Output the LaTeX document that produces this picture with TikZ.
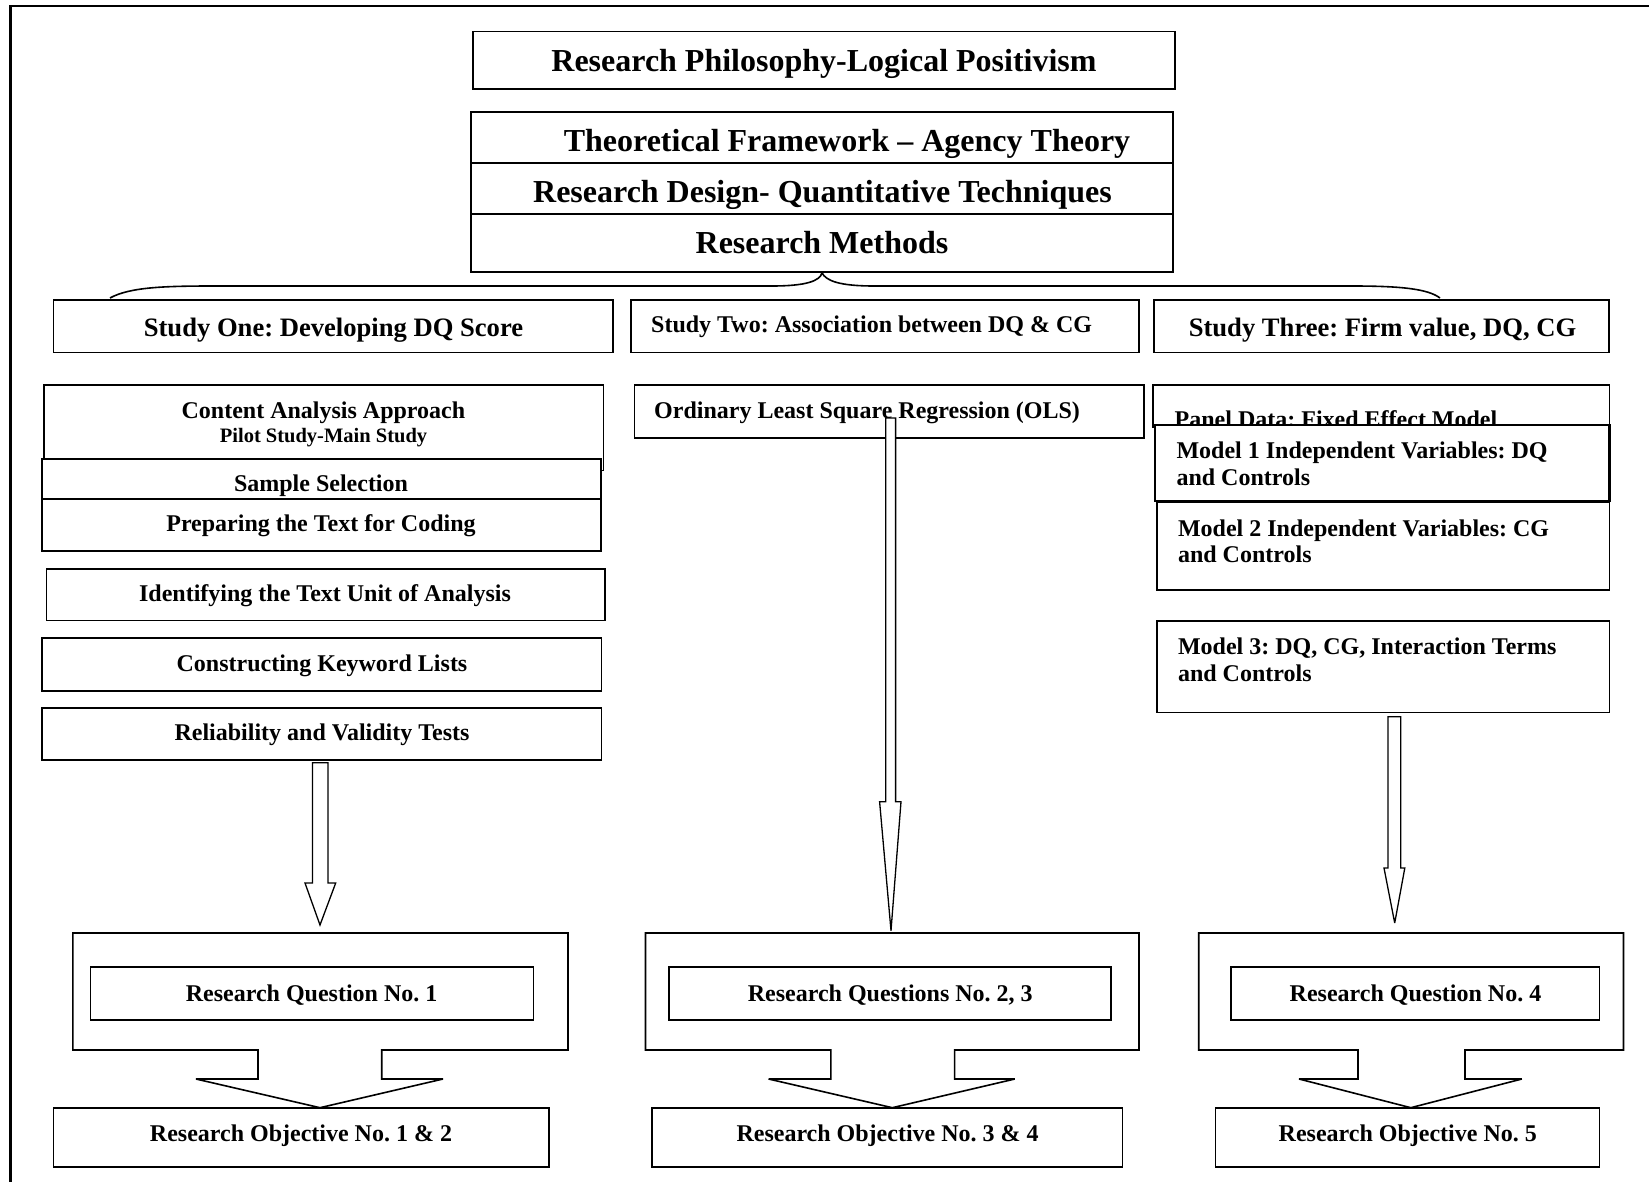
\documentclass[tikz,border=0pt]{standalone}
\usepackage{fontspec}
\setmainfont{Liberation Serif}
\usetikzlibrary{fit}
\frenchspacing
\begin{document}
\begin{tikzpicture}[x=1pt,y=-1pt,
  box/.style={draw, line width=1.6pt, fill=white, inner sep=0pt},
  heavybox/.style={box, line width=2.4pt},
  txt/.style={inner sep=0pt, font=\bfseries\fontsize{24}{28}\selectfont},
  bigtxt/.style={txt, font=\bfseries\fontsize{32}{36}\selectfont},
  midtxt/.style={txt, font=\bfseries\fontsize{26.6}{30}\selectfont},
  smalltxt/.style={txt, font=\bfseries\fontsize{20.5}{24}\selectfont},
  blockarrow/.style={draw, line width=1.3pt, fill=white, line join=miter, miter limit=3},
  callout/.style={draw, line width=1.6pt, fill=white, line join=miter, miter limit=2},
  frameline/.style={line width=2.4pt},
  bracestyle/.style={line width=1.6pt}
]
\useasboundingbox (0,0) rectangle (1649,1182);

% outer frame (top and left edges)
\coordinate (fTR) at (1649,6);
\coordinate (fTL) at (10.5,6);
\coordinate (fBL) at (10.5,1182);
\draw[frameline] (fTR) -- (fTL) -- (fBL);

% ---- top stack ----
\node[box, fit={(473,31.5) (1175,89)}] (phil) {};
\node[bigtxt, anchor=base] (philT) at (824,71.5) {Research Philosophy-Logical Positivism};

\node[box, fit={(471,112) (1173,163)}] (theory) {};
\node[bigtxt, anchor=base] (theoryT) at (847,151.5) {Theoretical Framework -- Agency Theory};
\node[box, fit={(471,163) (1173,214)}] (design) {};
\node[bigtxt, anchor=base] (designT) at (822.5,202.3) {Research Design- Quantitative Techniques};
\node[box, fit={(471,214) (1173,272)}] (methods) {};
\node[bigtxt, anchor=base] (methodsT) at (822,254) {Research Methods};

% brace under the methods box
\coordinate (brL) at (110,298);
\coordinate (brR) at (1440,298);
\draw[bracestyle] (brL) .. controls (130,287) and (165,286) .. (215,286)
  -- (772,286) .. controls (806,286) and (820,281) .. (methods.south)
  .. controls (826,281) and (840,286) .. (874,286)
  -- (1352,286) .. controls (1402,286) and (1428,289) .. (brR);

% ---- study headers ----
\node[box, fit={(53.6,300) (613,352.5)}] (s1) {};
\node[midtxt, anchor=base] (s1T) at (333.5,336) {Study One: Developing DQ Score};
\node[box, fit={(631,300) (1139,352.5)}] (s2) {};
\node[txt, anchor=base west] (s2T) at (651,333) {Study Two: Association between DQ \& CG};
\node[box, fit={(1154,300) (1609,352.5)}] (s3) {};
\node[midtxt, anchor=base] (s3T) at (1382.5,336) {Study Three: Firm value, DQ, CG};

% ---- study one column ----
\node[box, fit={(43.75,385) (603.6,470.5)}] (content) {};
\node[txt, anchor=base] (contentT) at (323.4,418.3) {Content Analysis Approach};
\node[smalltxt, anchor=base] (pilotT) at (323.5,442.7) {Pilot Study-Main Study};
\node[box, fit={(42,459) (601,498.7)}] (sample) {};
\node[txt, anchor=base] (sampleT) at (321,491.7) {Sample Selection};
\node[box, fit={(42,498.7) (601,551)}] (prep) {};
\node[txt, anchor=base] (prepT) at (321,531.7) {Preparing the Text for Coding};
\node[box, fit={(46.3,569) (604.7,620.5)}] (unit) {};
\node[txt, anchor=base] (unitT) at (325,601) {Identifying the Text Unit of Analysis};
\node[box, fit={(42,638) (601.5,691)}] (keys) {};
\node[txt, anchor=base] (keysT) at (322,671) {Constructing Keyword Lists};
\node[box, fit={(42,708) (601.5,760)}] (rel) {};
\node[txt, anchor=base] (relT) at (322,740.7) {Reliability and Validity Tests};

% ---- study two column ----
\node[box, fit={(634.4,385) (1143.7,438)}] (ols) {};
\node[txt, anchor=base west] (olsT) at (654,418) {Ordinary Least Square Regression (OLS)};

% ---- study three column ----
\node[box, fit={(1152.9,385) (1609.6,427)}] (panel) {};
\node[txt, anchor=base west] (panelT) at (1174.5,427.5) {Panel Data: Fixed Effect Model};
\node[heavybox, fit={(1154.8,425) (1609.6,500.7)}] (m1) {};
\node[txt, anchor=base west] (m1a) at (1176.3,458.3) {Model 1 Independent Variables: DQ};
\node[txt, anchor=base west] (m1b) at (1176.3,485) {and Controls};
\node[box, fit={(1156.8,502.3) (1609.6,590)}] (m2) {};
\node[txt, anchor=base west] (m2a) at (1177.8,536.7) {Model 2 Independent Variables: CG};
\node[txt, anchor=base west] (m2b) at (1177.8,562.7) {and Controls};
\node[box, fit={(1156.8,620.7) (1609.6,712.3)}] (m3) {};
\node[txt, anchor=base west] (m3a) at (1177.8,654) {Model 3: DQ, CG, Interaction Terms};
\node[txt, anchor=base west] (m3b) at (1177.8,681) {and Controls};

% ---- block arrows down to the questions ----
\draw[blockarrow] (312.5,762.7) -- (312.5,883) -- (305,883) -- (320,925)
  -- (335.7,883) -- (328,883) -- (328,762.7) -- cycle;
\draw[blockarrow] (885.8,418) -- (885.8,801.7) -- (879.6,801.7) -- (891,930.7)
  -- (901,801.7) -- (895.6,801.7) -- (895.6,418) -- cycle;
\draw[blockarrow] (1388,716.7) -- (1388,868) -- (1384,868) -- (1394.7,923)
  -- (1404.8,868) -- (1400.8,868) -- (1400.8,716.7) -- cycle;

% ---- question callouts ----
\draw[callout] (72.8,933) -- (568,933) -- (568,1050) -- (381.7,1050) -- (381.7,1079)
  -- (443,1079) -- (320,1107.7) -- (196,1079) -- (258,1079) -- (258,1050)
  -- (72.8,1050) -- cycle;
\draw[callout] (645.5,933) -- (1139,933) -- (1139,1050) -- (954.6,1050) -- (954.6,1079)
  -- (1014.8,1079) -- (892.3,1107.7) -- (768.6,1079) -- (830.8,1079) -- (830.8,1050)
  -- (645.5,1050) -- cycle;
\draw[callout] (1198.7,933) -- (1623.5,933) -- (1623.5,1050) -- (1465,1050) -- (1465,1079)
  -- (1521.8,1079) -- (1410.8,1107.7) -- (1299,1079) -- (1358,1079) -- (1358,1050)
  -- (1198.7,1050) -- cycle;

\node[box, fit={(90.6,966.7) (533.5,1020)}] (q1) {};
\node[txt, anchor=base] (q1T) at (311.6,1001) {Research Question No. 1};
\node[box, fit={(669,966.7) (1111,1020)}] (q2) {};
\node[txt, anchor=base] (q2T) at (890.3,1001) {Research Questions No. 2, 3};
\node[box, fit={(1230.8,966.7) (1599.5,1020)}] (q3) {};
\node[txt, anchor=base] (q3T) at (1415.5,1001) {Research Question No. 4};

% ---- objectives ----
\node[box, fit={(53.6,1107.7) (548.7,1166.7)}] (o1) {};
\node[txt, anchor=base] (o1T) at (301,1141.7) {Research Objective No. 1 \& 2};
\node[box, fit={(652,1107.7) (1122.5,1166.7)}] (o2) {};
\node[txt, anchor=base] (o2T) at (887.6,1141.7) {Research Objective No. 3 \& 4};
\node[box, fit={(1215.5,1107.7) (1599.5,1166.7)}] (o3) {};
\node[txt, anchor=base] (o3T) at (1407.8,1141.7) {Research Objective No. 5};

\end{tikzpicture}
\end{document}
